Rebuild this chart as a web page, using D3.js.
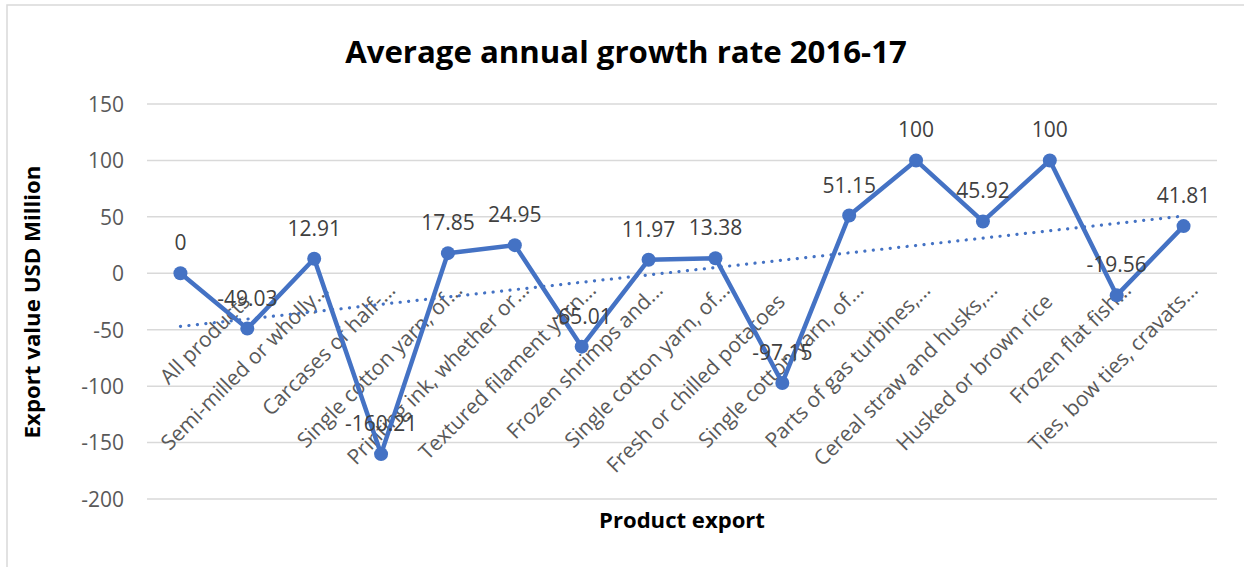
<!DOCTYPE html>
<html>
<head>
<meta charset="utf-8">
<script src="https://cdn.jsdelivr.net/npm/d3@7"></script>
<style>
  html, body { margin: 0; padding: 0; background: #fff; }
  svg { display: block; }
  text { font-family: "Open Sans", "Liberation Sans", sans-serif; }
</style>
</head>
<body>
<svg id="chart" width="1244" height="567"></svg>
<script>
// ---- data ----
const categories = [
  "",
  "All products",
  "Semi-milled or wholly...",
  "Carcases of half-...",
  "Single cotton yarn, of...",
  "Printing ink, whether or...",
  "Textured filament yarn...",
  "Frozen shrimps and...",
  "Single cotton yarn, of...",
  "Fresh or chilled potatoes",
  "Single cotton yarn, of...",
  "Parts of gas turbines,...",
  "Cereal straw and husks,...",
  "Husked or brown rice",
  "Frozen flat fish...",
  "Ties, bow ties, cravats..."
];
const growthValues = [0, -49.03, 12.91, -160.21, 17.85, 24.95, -65.01, 11.97, 13.38, -97.15, 51.15, 100, 45.92, 100, -19.56, 41.81];
const yTicks = [-200, -150, -100, -50, 0, 50, 100, 150];
const titleText = "Average annual growth rate 2016-17";
const yAxisTitle = "Export value USD Million";
const xAxisTitle = "Product export";

// ---- layout ----
const svg = d3.select("#chart");
const plot = { left: 147, right: 1217, top: 104, bottom: 499 };
const blue = "#4472C4";

// chart border
svg.append("rect").attr("x", 7).attr("y", 5).attr("width", 1250).attr("height", 600)
  .attr("fill", "#fff").attr("stroke", "#d9d9d9").attr("stroke-width", 1.5);

const x = d3.scalePoint().domain(d3.range(categories.length))
  .range([plot.left, plot.right]).padding(0.5);
const y = d3.scaleLinear().domain([-200, 150]).range([plot.bottom, plot.top]);

// gridlines
svg.append("g").selectAll("line").data(yTicks).join("line")
  .attr("x1", plot.left).attr("x2", plot.right)
  .attr("y1", d => y(d)).attr("y2", d => y(d))
  .attr("stroke", "#d9d9d9").attr("stroke-width", 1.5);

// y axis tick labels
const yAxis = d3.axisLeft(y).tickValues(yTicks).tickSize(0).tickPadding(0).tickFormat(d => String(d));
const yg = svg.append("g").attr("transform", `translate(124,0)`).call(yAxis);
yg.select(".domain").remove();
yg.selectAll("text").attr("fill", "#595959").attr("font-size", 21)
  .attr("font-family", "'Open Sans', sans-serif").attr("dy", "0.35em");

// category labels
const lab = svg.append("g");
categories.forEach((c, i) => {
  if (!c) return;
  const hasEll = c.endsWith("...");
  const main = hasEll ? c.slice(0, -3) : c;
  const ax = x(i) + 4, ay = 303;
  const g = lab.append("g").attr("transform", `translate(${ax},${ay}) rotate(-45)`);
  g.append("text").attr("text-anchor", "end").attr("font-size", 21).attr("fill", "#595959").text(main);
  if (hasEll) g.append("text").attr("text-anchor", "start").attr("font-size", 21).attr("fill", "#595959").text("...");
});

// trendline (linear least squares of the series)
const n = growthValues.length;
const xs = d3.range(1, n + 1);
const mx = d3.mean(xs), my = d3.mean(growthValues);
const slope = d3.sum(xs.map((v, i) => (v - mx) * (growthValues[i] - my))) / d3.sum(xs.map(v => (v - mx) ** 2));
const icpt = my - slope * mx;
svg.append("line")
  .attr("x1", x(0)).attr("y1", y(icpt + slope * 1))
  .attr("x2", x(n - 1)).attr("y2", y(icpt + slope * n))
  .attr("stroke", blue).attr("stroke-width", 3.2)
  .attr("stroke-linecap", "round").attr("stroke-dasharray", "0.1 8.4");

// series line
const line = d3.line().x((d, i) => x(i)).y(d => y(d));
svg.append("path").datum(growthValues).attr("d", line)
  .attr("fill", "none").attr("stroke", blue).attr("stroke-width", 4.5).attr("stroke-linejoin", "round");
svg.append("g").selectAll("circle").data(growthValues).join("circle")
  .attr("cx", (d, i) => x(i)).attr("cy", d => y(d)).attr("r", 7).attr("fill", blue);

// data labels
svg.append("g").selectAll("text").data(growthValues).join("text")
  .attr("x", (d, i) => x(i)).attr("y", d => y(d) - 23)
  .attr("text-anchor", "middle").attr("font-size", 21).attr("fill", "#404040")
  .text(d => String(d));

// titles
function fit(sel, target) {
  const w = sel.node().getComputedTextLength();
  const fs = parseFloat(sel.attr("font-size"));
  sel.attr("font-size", fs * target / w);
}
const t = svg.append("text").attr("x", 626).attr("y", 63).attr("text-anchor", "middle")
  .attr("font-size", 30).attr("font-weight", "bold").attr("fill", "#000").text(titleText);
fit(t, 562);
const yt = svg.append("text").attr("transform", "translate(40,302) rotate(-90)").attr("text-anchor", "middle")
  .attr("font-size", 20).attr("font-weight", "bold").attr("fill", "#000").text(yAxisTitle);
fit(yt, 273);
const xt = svg.append("text").attr("x", 682).attr("y", 528).attr("text-anchor", "middle")
  .attr("font-size", 20).attr("font-weight", "bold").attr("fill", "#000").text(xAxisTitle);
fit(xt, 166);
</script>
</body>
</html>
